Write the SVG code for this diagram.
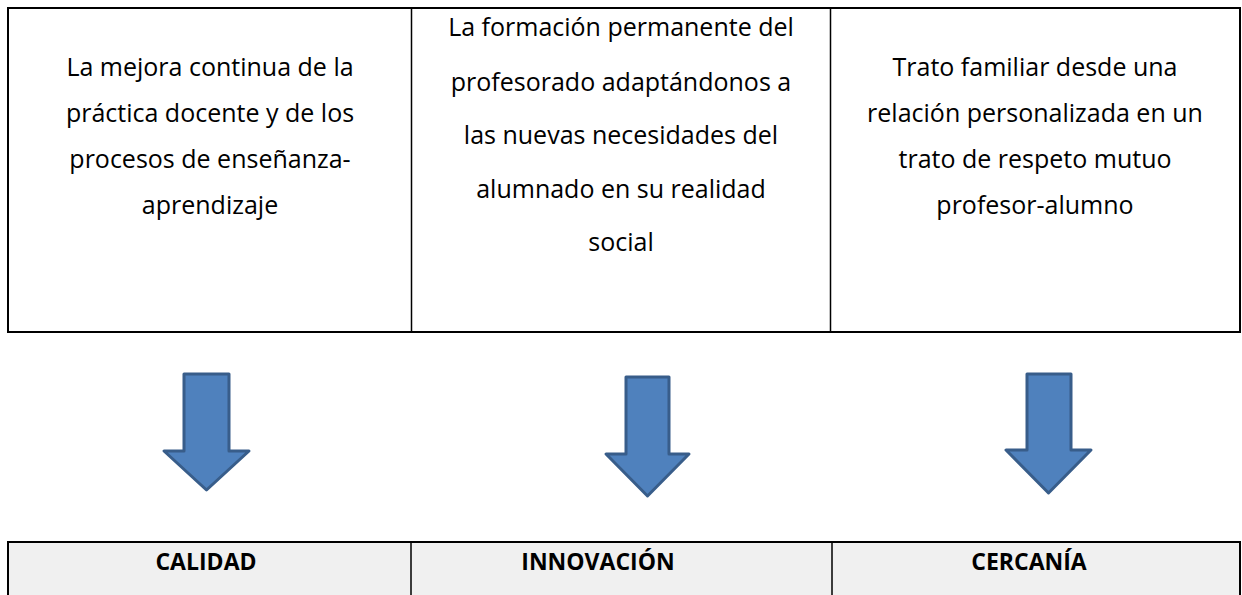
<svg xmlns="http://www.w3.org/2000/svg" width="1242" height="595" viewBox="0 0 1242 595">
<style>
.t{font-family:"Open Sans","Noto Sans","Liberation Sans",sans-serif;font-size:25px;fill:#000;text-anchor:middle}
.h{font-family:"Open Sans","Noto Sans","Liberation Sans",sans-serif;font-size:23px;font-weight:bold;fill:#000;text-anchor:middle}
.b{fill:none;stroke:#000;stroke-width:2}
.d{stroke:#000;stroke-width:1.5}
.arr{fill:#4f81bd;stroke:#385d8a;stroke-width:3;stroke-linejoin:round}
</style>
<rect width="1242" height="595" fill="#fff"/>
<g id="top-table">
<rect class="b" x="8" y="8" width="1232" height="324" fill="#fff"/>
<line class="d" x1="411.5" y1="8" x2="411.5" y2="332"/>
<line class="d" x1="830.5" y1="8" x2="830.5" y2="332"/>
</g>
<g id="cell-mejora">
<text class="t" x="210" y="76">La mejora continua de la</text>
<text class="t" x="210" y="122">práctica docente y de los</text>
<text class="t" x="210" y="168">procesos de enseñanza-</text>
<text class="t" x="210" y="214">aprendizaje</text>
</g>
<g id="cell-formacion">
<text class="t" x="621" y="36">La formación permanente del</text>
<text class="t" x="621" y="91">profesorado adaptándonos a</text>
<text class="t" x="621" y="144">las nuevas necesidades del</text>
<text class="t" x="621" y="198">alumnado en su realidad</text>
<text class="t" x="621" y="251">social</text>
</g>
<g id="cell-trato">
<text class="t" x="1035" y="76">Trato familiar desde una</text>
<text class="t" x="1035" y="122">relación personalizada en un</text>
<text class="t" x="1035" y="168">trato de respeto mutuo</text>
<text class="t" x="1035" y="214">profesor-alumno</text>
</g>
<g id="connectors">
<polygon class="arr" points="184,374 229,374 229,451 249,451 206.5,490 164,451 184,451"/>
<polygon class="arr" points="626,377 669,377 669,454 689,454 647.5,496 606,454 626,454"/>
<polygon class="arr" points="1027,374 1071,374 1071,450 1091,450 1048.5,493 1006,450 1027,450"/>
</g>
<g id="bottom-table">
<rect x="8" y="542" width="1232" height="70" fill="#f0f0f0" stroke="#000" stroke-width="2"/>
<line class="d" x1="411" y1="542" x2="411" y2="595"/>
<line class="d" x1="832" y1="542" x2="832" y2="595"/>
</g>
<g id="calidad"><text class="h" x="206" y="570">CALIDAD</text></g>
<g id="innovacion"><text class="h" x="598" y="570">INNOVACIÓN</text></g>
<g id="cercania"><text class="h" x="1029" y="570">CERCANÍA</text></g>
</svg>
